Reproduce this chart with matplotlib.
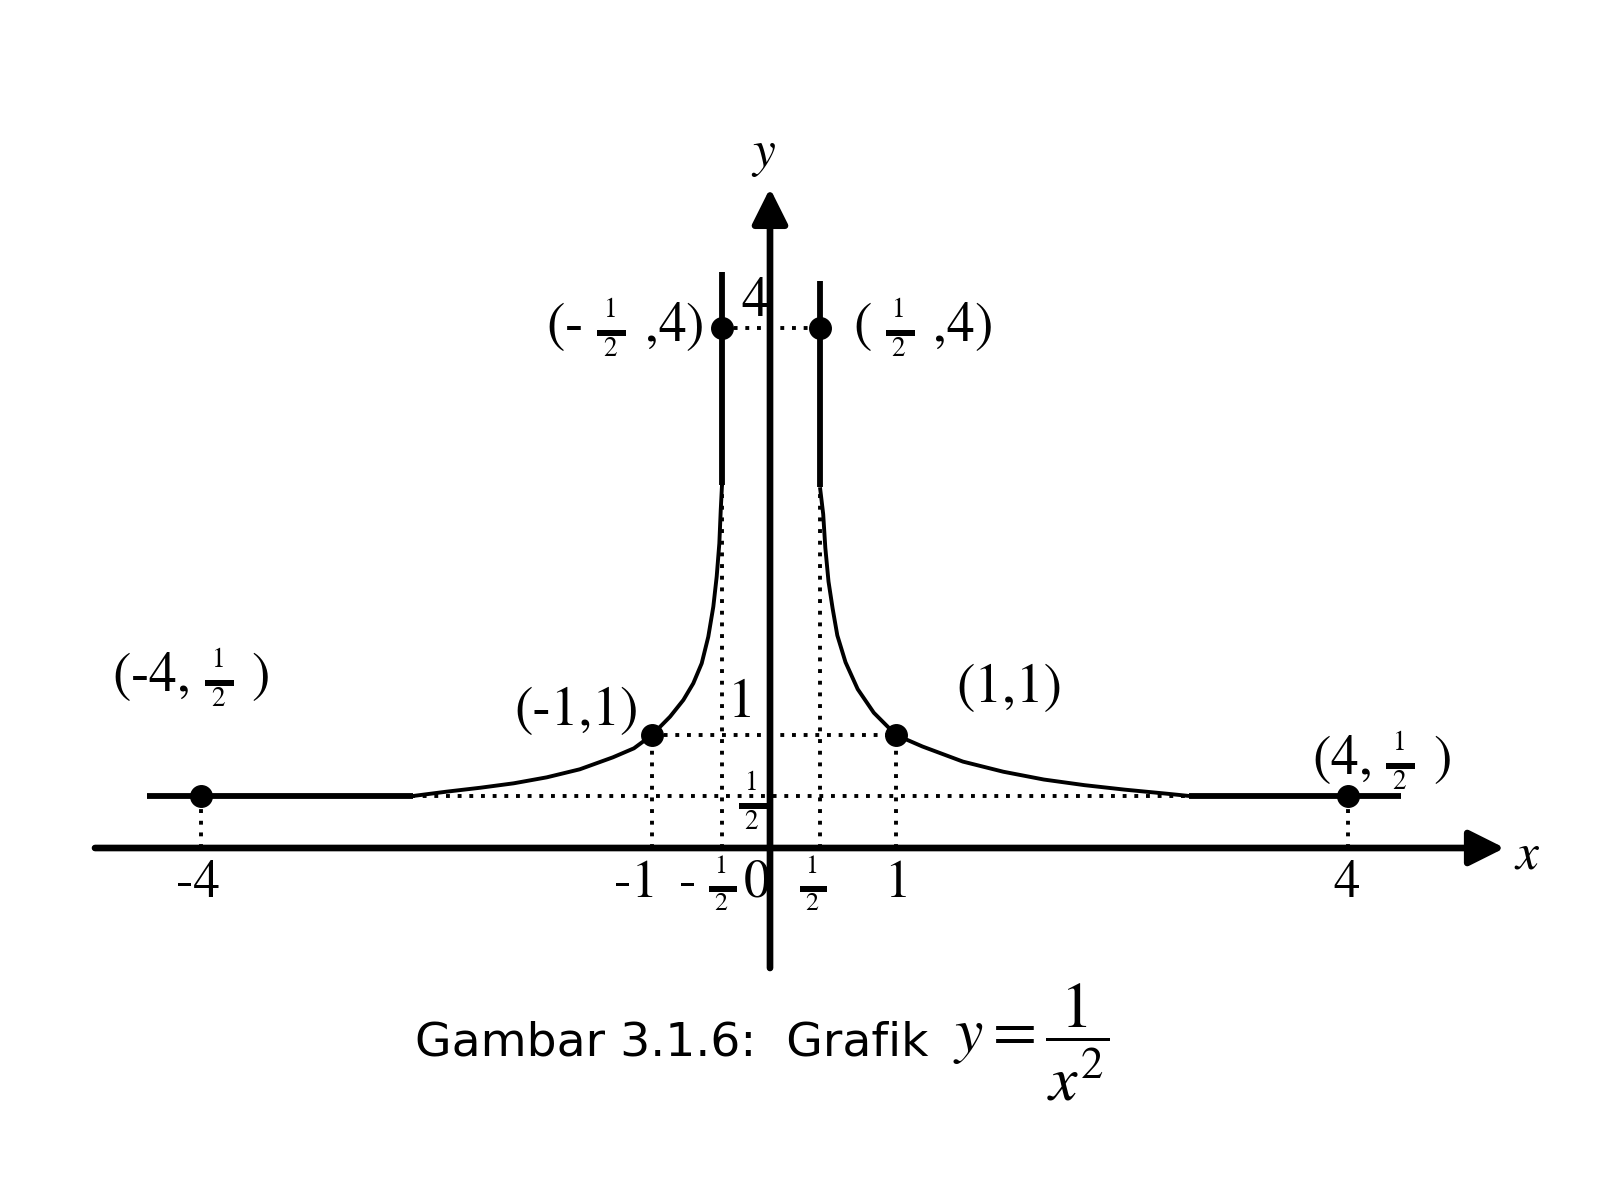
import numpy as np
import matplotlib.pyplot as plt

plt.rcParams['font.family'] = ['STIXGeneral', 'DejaVu Sans']
plt.rcParams['mathtext.fontset'] = 'stix'

# titik yang ditandai pada grafik
pts_x = [-4, -1, -0.5, 0.5, 1, 4]
pts_y = [0.5, 1, 4, 4, 1, 0.5]

# cabang kiri (gambar sketsa, bukan skala sebenarnya)
left_flat_x = [-4.36, -2.59]
left_curve_x = [-2.59, -2.37, -2.14, -1.92, -1.70, -1.48, -1.26, -1.12, -1.0,
                -0.871, -0.776, -0.705, -0.645, -0.598, -0.562, -0.538, -0.519,
                -0.509, -0.5]
left_curve_y = [0.5, 0.535, 0.568, 0.604, 0.653, 0.719, 0.817, 0.891, 1.0,
                1.135, 1.258, 1.381, 1.528, 1.724, 1.946, 2.167, 2.413,
                2.658, 2.843]
left_vert_y = [2.843, 4.41]

# cabang kanan
right_vert_y = [2.826, 4.35]
right_curve_x = [0.5, 0.521, 0.535, 0.556, 0.583, 0.614, 0.668, 0.748, 0.854,
                 1.0, 1.175, 1.444, 1.712, 1.981, 2.25, 2.519, 2.788, 2.948]
right_curve_y = [2.826, 2.628, 2.38, 2.131, 1.933, 1.734, 1.536, 1.338, 1.164,
                 1.0, 0.906, 0.782, 0.699, 0.635, 0.589, 0.552, 0.520, 0.5]
right_flat_x = [2.948, 4.35]

# skala sketsa: posisi piksel untuk tiap nilai
xk = [-6, -4, -1, -0.5, 0, 0.5, 1, 4, 6]
xp = [-99.7, 201, 652, 722, 770, 820, 896, 1348, 1649.3]
yk = [-4, 0, 0.5, 1, 4, 8]
yp = [-416, 0, 52, 113, 520, 1062.7]
W, H, X0 = 1618, 1178, 848


def fx(v):
    return np.interp(v, xk, xp)


def ix(v):
    return np.interp(v, xp, xk)


def fy(v):
    return np.interp(v, yk, yp)


def iy(v):
    return np.interp(v, yp, yk)


fig = plt.figure(figsize=(W / 100, H / 100), dpi=100)
ax = fig.add_axes([0, 0, 1, 1])
ax.set_xscale('function', functions=(fx, ix))
ax.set_yscale('function', functions=(fy, iy))
ax.set_xlim(ix(0), ix(W))
ax.set_ylim(iy(X0 - H), iy(X0))
ax.axis('off')

# sumbu dengan panah
arrow = dict(arrowstyle='-|>,head_length=0.4,head_width=0.2', lw=4.8,
             color='black', mutation_scale=54, shrinkA=0, shrinkB=0)
ax.annotate('', xy=(5.04, 0), xytext=(-4.705, 0), arrowprops=arrow)
ax.annotate('', xy=(0, 5.03), xytext=(0, -1.154), arrowprops=arrow)

# garis titik-titik bantu
dot = dict(color='black', lw=2.8, ls=(0, (1, 2)), zorder=1)
for px_, py_ in zip(pts_x, pts_y):
    ax.plot([px_, px_], [0, py_], **dot)
for i in range(3):
    ax.plot([pts_x[i], pts_x[-1 - i]], [pts_y[i], pts_y[-1 - i]], **dot)

# kurva
thin = dict(color='black', lw=2.8, solid_capstyle='butt', zorder=3)
thick = dict(color='black', lw=4.2, solid_capstyle='butt', zorder=3)
ax.plot(left_flat_x, [0.5, 0.5], **thick)
ax.plot(left_curve_x, left_curve_y, **thin)
ax.plot([-0.5, -0.5], left_vert_y, **thick)
ax.plot([0.5, 0.5], right_vert_y, **thick)
ax.plot(right_curve_x, right_curve_y, **thin)
ax.plot(right_flat_x, [0.5, 0.5], **thick)
ax.plot(pts_x, pts_y, 'o', color='black', ms=15.5, zorder=4)

HALF = r'$\genfrac{}{}{6.5}{2}{\ 1\ }{\ 2\ }$'
lab = dict(fontsize=40, va='center')
ax.text(-0.63, 4, '(- ' + HALF + ' ,4)', ha='right', **lab)
ax.text(0.72, 4, '( ' + HALF + ' ,4)', ha='left', **lab)
ax.text(-4.07, 1.42, '(-4, ' + HALF + ' )', ha='center', **lab)
ax.text(-1.09, 1.17, '(-1,1)', ha='right', **lab)
ax.text(1.75, 1.34, '(1,1)', ha='center', **lab)
ax.text(4.22, 0.787, '(4, ' + HALF + ' )', ha='center', **lab)

# label sumbu y
ax.text(-0.156, 4.19, '4', ha='center', **lab)
ax.text(-0.295, 1.23, '1', ha='center', **lab)
ax.text(-0.18, 0.45, HALF, ha='center', fontsize=40, va='center')

# label sumbu x
tk = dict(fontsize=38, va='baseline', ha='center')
ax.text(-4.02, -0.471, '-4', **tk)
ax.text(-1.106, -0.471, '-1', **tk)
ax.text(-0.609, -0.471, '- ' + HALF, **tk)
ax.text(-0.135, -0.471, '0', **tk)
ax.text(0.43, -0.471, HALF, **tk)
ax.text(1.01, -0.471, '1', **tk)
ax.text(3.99, -0.471, '4', **tk)

ax.text(-0.0625, 5.27, '$y$', fontsize=37, ha='center', va='center')
ax.text(5.19, -0.083, '$x$', fontsize=37, ha='center', va='center')

fig.text(415 / W, 1 - 1055 / H, 'Gambar 3.1.6:  Grafik', family='DejaVu Sans',
         fontsize=34, ha='left', va='baseline')
fig.text(953 / W, 1 - 1042 / H, r'$y=\dfrac{\ 1\ }{x^2}$', fontsize=46,
         ha='left', va='center')

fig.savefig('out.png', dpi=100)
